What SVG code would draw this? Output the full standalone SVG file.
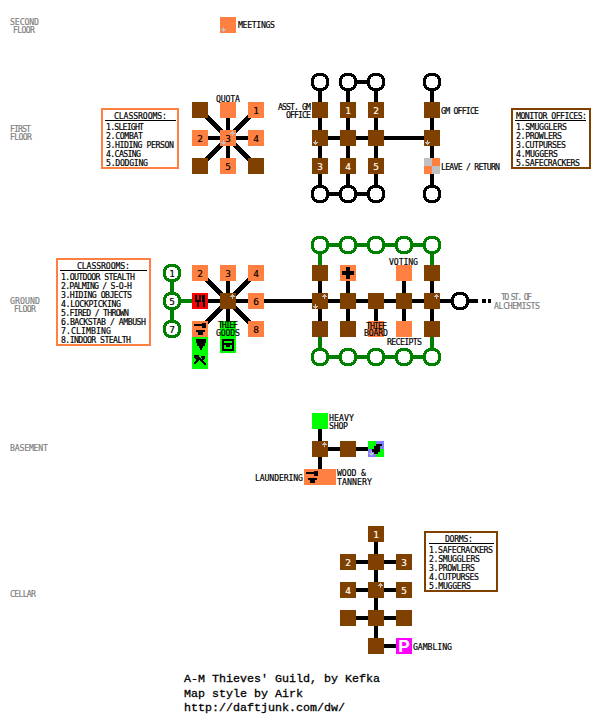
<svg xmlns="http://www.w3.org/2000/svg" width="600" height="720" viewBox="0 0 600 720">
<style>
text{font-family:"DejaVu Sans Mono","Liberation Mono",monospace;font-size:8.2px;fill:#000;stroke:#000;stroke-width:.18px}
.g{fill:#808080;stroke:#808080}
.c{text-anchor:middle;font-size:9.4px}
.w{fill:#fff;stroke:#fff}
.foot{font-family:"Liberation Mono",monospace;font-size:11.67px;stroke-width:.3px}
.br{fill:#804000}.or{fill:#ff8040}.gr{fill:#00ff00}.re{fill:#ff0000}.ma{fill:#ff00ff}.lg{fill:#c0c0c0}.bl{fill:#8080ff}.k{fill:#000}
.rk{fill:#000}.rg{fill:#008000}
.box{fill:#fff;stroke-width:2}
.bo{stroke:#ff8040}.bb{stroke:#804000}
.rule{stroke:#000;stroke-width:1}
#connectors path{fill:none;stroke:#000;stroke-width:4}
#connectors path.gl{stroke:#008000}
#connectors path.d{shape-rendering:crispEdges;stroke-width:4.4}
rect{shape-rendering:crispEdges}
</style>
<defs>
<g id="ring"><path d="M-3-6H3V-5H5V-3H6V3H5V5H3V6H-3V5H-5V3H-6V-3H-5V-5H-3Z" style="fill:#fff"/><path fill-rule="evenodd" shape-rendering="crispEdges" d="M-4-9H4V-8H6V-7H7V-6H8V-4H9V4H8V6H7V7H6V8H4V9H-4V8H-6V7H-7V6H-8V4H-9V-4H-8V-6H-7V-7H-6V-8H-4ZM-3-6H3V-5H5V-3H6V3H5V5H3V6H-3V5H-5V3H-6V-3H-5V-5H-3Z"/></g>
<path id="up" style="fill:#c0c0c0" shape-rendering="crispEdges" d="M-.5-2.5h1v1h1v1h1v1h-2v2h-1v-2h-2v-1h1v-1h1z"/>
<path id="dn" style="fill:#c0c0c0" shape-rendering="crispEdges" d="M-.5 2.5h1v-1h1v-1h1v-1h-2v-2h-1v2h-2v1h1v1h1z"/>
<g id="anvil"><rect x="-6" y="-5" width="9" height="2"/><rect x="2" y="-6" width="4" height="5"/><rect x="-4" y="1" width="9" height="2"/><rect x="-2" y="3" width="5" height="3"/></g>
</defs>
<rect width="600" height="720" fill="#fff"/>

<g id="floor-labels">
<text class="g" x="10" y="24.5" textLength="29">SECOND</text><text class="g" x="13" y="32.5" textLength="22">FLOOR</text>
<text class="g" x="10" y="131.5" textLength="21">FIRST</text><text class="g" x="10" y="139.5" textLength="22">FLOOR</text>
<text class="g" x="10" y="303.5" textLength="30">GROUND</text><text class="g" x="14" y="311.5" textLength="22">FLOOR</text>
<text class="g" x="10" y="450.5" textLength="38">BASEMENT</text>
<text class="g" x="10" y="596.5" textLength="26">CELLAR</text>
</g>

<g id="connectors">
<path d="M200 138H256M228 110V166"/>
<path class="d" d="M206 116L250 160M250 116L206 160"/>
<path d="M320 82V194M348 82V194M376 82V194M432 82V194M320 138H432M348 82H376M320 194H376"/>
<path class="gl" d="M172 273V329M172 301H200"/>
<path d="M200 301H312"/>
<path d="M228 273V329"/>
<path class="d" d="M206 279L250 323M250 279L206 323"/>
<path class="gl" d="M320 245H432M320 357H432M320 245V273M432 245V273M320 329V357M432 329V357"/>
<path d="M320 273V329M348 273V329M376 301V329M404 273V329M432 273V329M312 301H478"/>
<path d="M482 301H486M488 301H491"/>
<path d="M320 429V469M320 449H376"/>
<path d="M376 534V646M348 562H404M348 590H404M348 618H404M376 646H404"/>
</g>

<g id="meetings"><rect class="or" x="220" y="17" width="16" height="16"/><use href="#dn" x="223.5" y="29.5"/><text x="238" y="27.5" textLength="37">MEETINGS</text></g>

<g id="first-legend"><rect class="box bo" x="102" y="109" width="76" height="59"/><line class="rule" x1="105" y1="120.5" x2="176" y2="120.5"/>
<text x="114" y="118.5" textLength="53">CLASSROOMS:</text>
<text x="106" y="129.5" textLength="38">1.SLEIGHT</text><text x="106" y="138.5" textLength="37">2.COMBAT</text><text x="106" y="147.5" textLength="68">3.HIDING PERSON</text><text x="106" y="156.5" textLength="35">4.CASING</text><text x="106" y="165.5" textLength="42">5.DODGING</text></g>
<g id="monitor-legend"><rect class="box bb" x="512" y="109" width="78" height="59"/><line class="rule" x1="515" y1="120.5" x2="586" y2="120.5"/>
<text x="516" y="118.5" textLength="71">MONITOR OFFICES:</text>
<text x="516" y="129.5" textLength="51">1.SMUGGLERS</text><text x="516" y="138.5" textLength="46">2.PROWLERS</text><text x="516" y="147.5" textLength="50">3.CUTPURSES</text><text x="516" y="156.5" textLength="42">4.MUGGERS</text><text x="516" y="165.5" textLength="64">5.SAFECRACKERS</text></g>

<g id="quota"><rect class="or" x="220" y="102" width="16" height="16"/><text x="216" y="101.5" textLength="24">QUOTA</text></g>
<g id="f-nw"><rect class="br" x="192" y="102" width="16" height="16"/></g>
<g id="f-sw"><rect class="br" x="192" y="158" width="16" height="16"/></g>
<g id="f-se"><rect class="br" x="248" y="158" width="16" height="16"/></g>
<g id="f-1"><rect class="or" x="248" y="102" width="16" height="16"/><text class="c" x="256" y="113.5">1</text></g>
<g id="f-2"><rect class="or" x="192" y="130" width="16" height="16"/><text class="c" x="200" y="141.5">2</text></g>
<g id="f-3"><rect class="or" x="220" y="130" width="16" height="16"/><text class="c" x="228" y="141.5">3</text><use href="#up" x="232.5" y="133.5"/><use href="#dn" x="223.5" y="142.5"/></g>
<g id="f-4"><rect class="or" x="248" y="130" width="16" height="16"/><text class="c" x="256" y="141.5">4</text></g>
<g id="f-5"><rect class="or" x="220" y="158" width="16" height="16"/><text class="c" x="228" y="169.5">5</text></g>

<g id="f-c1"><use href="#ring" x="320" y="82" class="rk"/></g><g id="f-c2"><use href="#ring" x="348" y="82" class="rk"/></g><g id="f-c3"><use href="#ring" x="376" y="82" class="rk"/></g><g id="f-c4"><use href="#ring" x="432" y="82" class="rk"/></g>
<g id="f-c5"><use href="#ring" x="320" y="194" class="rk"/></g><g id="f-c6"><use href="#ring" x="348" y="194" class="rk"/></g><g id="f-c7"><use href="#ring" x="376" y="194" class="rk"/></g><g id="f-c8"><use href="#ring" x="432" y="194" class="rk"/></g>
<g id="asst-gm"><rect class="br" x="312" y="102" width="16" height="16"/><text x="278" y="109.5" textLength="33">ASST. GM</text><text x="286" y="117.5" textLength="25">OFFICE</text></g>
<g id="mon-1"><rect class="br" x="340" y="102" width="16" height="16"/><text class="c w" x="348" y="113.5">1</text></g>
<g id="mon-2"><rect class="br" x="368" y="102" width="16" height="16"/><text class="c w" x="376" y="113.5">2</text></g>
<g id="gm-office"><rect class="br" x="424" y="102" width="16" height="16"/><text x="441" y="113.5" textLength="38">GM OFFICE</text></g>
<g id="f-r1"><rect class="br" x="312" y="130" width="16" height="16"/><use href="#dn" x="315" y="142"/></g>
<g id="f-r2"><rect class="br" x="340" y="130" width="16" height="16"/></g>
<g id="f-r3"><rect class="br" x="368" y="130" width="16" height="16"/></g>
<g id="f-r4"><rect class="br" x="424" y="130" width="16" height="16"/><use href="#dn" x="427" y="142"/></g>
<g id="mon-3"><rect class="br" x="312" y="158" width="16" height="16"/><text class="c w" x="320" y="169.5">3</text></g>
<g id="mon-4"><rect class="br" x="340" y="158" width="16" height="16"/><text class="c w" x="348" y="169.5">4</text></g>
<g id="mon-5"><rect class="br" x="368" y="158" width="16" height="16"/><text class="c w" x="376" y="169.5">5</text></g>
<g id="leave-return"><rect class="lg" x="424" y="158" width="8" height="8"/><rect class="or" x="432" y="158" width="8" height="8"/><rect class="or" x="424" y="166" width="8" height="8"/><rect class="lg" x="432" y="166" width="8" height="8"/><text x="441" y="169.5" textLength="59">LEAVE / RETURN</text></g>

<g id="ground-legend"><rect class="box bo" x="57" y="259" width="93" height="86"/><line class="rule" x1="60" y1="270.5" x2="147" y2="270.5"/>
<text x="77" y="268.5" textLength="53">CLASSROOMS:</text>
<text x="61" y="279.5" textLength="74">1.OUTDOOR STEALTH</text><text x="61" y="288.5" textLength="71">2.PALMING / S-O-H</text><text x="61" y="297.5" textLength="71">3.HIDING OBJECTS</text><text x="61" y="306.5" textLength="60">4.LOCKPICKING</text><text x="61" y="315.5" textLength="68">5.FIRED / THROWN</text><text x="61" y="324.5" textLength="85">6.BACKSTAB / AMBUSH</text><text x="61" y="333.5" textLength="50">7.CLIMBING</text><text x="61" y="342.5" textLength="70">8.INDOOR STEALTH</text></g>

<g id="g-c1"><use href="#ring" x="172" y="273" class="rg"/><text class="c" x="172" y="276.5">1</text></g>
<g id="g-c5"><use href="#ring" x="172" y="301" class="rg"/><text class="c" x="172" y="304.5">5</text></g>
<g id="g-c7"><use href="#ring" x="172" y="329" class="rg"/><text class="c" x="172" y="332.5">7</text></g>
<g id="g-2"><rect class="or" x="192" y="265" width="16" height="16"/><text class="c" x="200" y="276.5">2</text></g>
<g id="g-3"><rect class="or" x="220" y="265" width="16" height="16"/><text class="c" x="228" y="276.5">3</text></g>
<g id="g-4"><rect class="or" x="248" y="265" width="16" height="16"/><text class="c" x="256" y="276.5">4</text></g>
<g id="g-6"><rect class="or" x="248" y="293" width="16" height="16"/><text class="c" x="256" y="304.5">6</text></g>
<g id="g-8"><rect class="or" x="248" y="321" width="16" height="16"/><text class="c" x="256" y="332.5">8</text></g>
<g id="g-food"><rect class="re" x="192" y="293" width="16" height="16"/><path class="k" shape-rendering="crispEdges" d="M195 295h2v5h2v-5h2v7h-2v5h-2v-5h-2zM202 295h3v12h-2v-5h-1z"/></g>
<g id="g-center"><rect class="br" x="220" y="293" width="16" height="16"/><use href="#up" x="232.5" y="296.5"/></g>
<g id="g-smith"><rect class="or" x="192" y="321" width="16" height="16"/><use href="#anvil" x="200" y="329"/></g>
<g id="g-armor"><rect class="gr" x="192" y="337" width="16" height="16"/><path class="k" shape-rendering="crispEdges" d="M196 339h10v4h-1v3h-2v2h-1v2h-2v-2h-1v-2h-2v-3h-1z"/></g>
<g id="g-weapons"><rect class="gr" x="192" y="353" width="16" height="16"/><path class="k" shape-rendering="crispEdges" d="M194 355h5v2h1v1h1v1h1v1h1v1h1v1h1v1h1v2h-2v-1h-1v-1h-1v-1h-1v-1h-1v-1h-1l-3 3v1h-2v-2l2-2v-1h-1v-1h-1zM201 356h4v3h-1v1h-2v-2h-1z"/></g>
<g id="thief-goods"><rect class="gr" x="220" y="321" width="16" height="32"/><path class="k" shape-rendering="crispEdges" fill-rule="evenodd" d="M222 339h12v12h-12zM224 341v2h8v-2zM224 345v4h8v-4z"/><rect class="k" x="226" y="345" width="4" height="2"/><text x="218" y="327.5" textLength="20">THIEF</text><text x="216" y="336" textLength="24">GOODS</text></g>

<g id="g-t1"><use href="#ring" x="320" y="245" class="rg"/></g><g id="g-t2"><use href="#ring" x="348" y="245" class="rg"/></g><g id="g-t3"><use href="#ring" x="376" y="245" class="rg"/></g><g id="g-t4"><use href="#ring" x="404" y="245" class="rg"/></g><g id="g-t5"><use href="#ring" x="432" y="245" class="rg"/></g>
<g id="g-b1"><use href="#ring" x="320" y="357" class="rg"/></g><g id="g-b2"><use href="#ring" x="348" y="357" class="rg"/></g><g id="g-b3"><use href="#ring" x="376" y="357" class="rg"/></g><g id="g-b4"><use href="#ring" x="404" y="357" class="rg"/></g><g id="g-b5"><use href="#ring" x="432" y="357" class="rg"/></g>
<g id="g-e"><use href="#ring" x="460" y="301" class="rk"/></g>
<g id="g-r11"><rect class="br" x="312" y="265" width="16" height="16"/></g>
<g id="g-heal"><rect class="or" x="340" y="265" width="16" height="16"/><path class="k" shape-rendering="crispEdges" d="M346 267h4v4h4v4h-4v4h-4v-4h-4v-4h4z"/></g>
<g id="voting"><rect class="or" x="396" y="265" width="16" height="16"/><text x="389" y="264.5" textLength="29">VOTING</text></g>
<g id="g-r15"><rect class="br" x="424" y="265" width="16" height="16"/></g>
<g id="g-r21"><rect class="br" x="312" y="293" width="16" height="16"/><use href="#up" x="324" y="296"/><use href="#dn" x="315" y="306"/></g>
<g id="g-r22"><rect class="br" x="340" y="293" width="16" height="16"/></g>
<g id="g-r23"><rect class="br" x="368" y="293" width="16" height="16"/></g>
<g id="g-r24"><rect class="br" x="396" y="293" width="16" height="16"/></g>
<g id="g-r25"><rect class="br" x="424" y="293" width="16" height="16"/><use href="#up" x="436" y="296"/></g>
<g id="g-r31"><rect class="br" x="312" y="321" width="16" height="16"/></g>
<g id="g-r32"><rect class="br" x="340" y="321" width="16" height="16"/></g>
<g id="thief-board"><rect class="or" x="368" y="321" width="16" height="16"/><text x="366" y="328.5" textLength="21">THIEF</text><text x="364" y="336" textLength="24">BOARD</text></g>
<g id="receipts"><rect class="or" x="396" y="321" width="16" height="16"/><text x="387" y="344.5" textLength="35">RECEIPTS</text></g>
<g id="g-r35"><rect class="br" x="424" y="321" width="16" height="16"/></g>
<g id="to-alchemists"><text class="g" x="501" y="299.5" textLength="31">TO ST. OF</text><text class="g" x="494" y="308.5" textLength="46">ALCHEMISTS</text></g>

<g id="heavy-shop"><rect class="gr" x="312" y="413" width="16" height="16"/><text x="329" y="420.5" textLength="25">HEAVY</text><text x="329" y="428.5" textLength="19">SHOP</text></g>
<g id="b-1"><rect class="br" x="312" y="441" width="16" height="16"/><use href="#up" x="324" y="444"/></g>
<g id="b-2"><rect class="br" x="340" y="441" width="16" height="16"/></g>
<g id="b-3"><rect class="gr" x="368" y="441" width="8" height="8"/><rect class="bl" x="376" y="441" width="8" height="8"/><rect class="bl" x="368" y="449" width="8" height="8"/><rect class="gr" x="376" y="449" width="8" height="8"/><path class="k" shape-rendering="crispEdges" d="M376 444h6v2h-2v6h-2v2h-4v-2h-2v-3h2v-3h2z"/><use href="#dn" x="371.5" y="453.5"/></g>
<g id="laundering"><rect class="or" x="304" y="469" width="32" height="16"/><use href="#anvil" x="312" y="477"/><text x="255" y="480.5" textLength="48">LAUNDERING</text><text x="337" y="476" textLength="29">WOOD &amp;</text><text x="337" y="484.5" textLength="35">TANNERY</text></g>

<g id="dorm-legend"><rect class="box bb" x="425" y="532" width="72" height="59"/><line class="rule" x1="429" y1="543.5" x2="494" y2="543.5"/>
<text x="445" y="541.5" textLength="28">DORMS:</text>
<text x="429" y="552.5" textLength="64">1.SAFECRACKERS</text><text x="429" y="561.5" textLength="51">2.SMUGGLERS</text><text x="429" y="570.5" textLength="46">3.PROWLERS</text><text x="429" y="579.5" textLength="50">4.CUTPURSES</text><text x="429" y="588.5" textLength="42">5.MUGGERS</text></g>
<g id="c-1"><rect class="br" x="368" y="526" width="16" height="16"/><text class="c w" x="376" y="537.5">1</text></g>
<g id="c-2"><rect class="br" x="340" y="554" width="16" height="16"/><text class="c w" x="348" y="565.5">2</text></g>
<g id="c-m1"><rect class="br" x="368" y="554" width="16" height="16"/></g>
<g id="c-3"><rect class="br" x="396" y="554" width="16" height="16"/><text class="c w" x="404" y="565.5">3</text></g>
<g id="c-4"><rect class="br" x="340" y="582" width="16" height="16"/><text class="c w" x="348" y="593.5">4</text></g>
<g id="c-m2"><rect class="br" x="368" y="582" width="16" height="16"/><use href="#up" x="380" y="585"/></g>
<g id="c-5"><rect class="br" x="396" y="582" width="16" height="16"/><text class="c w" x="404" y="593.5">5</text></g>
<g id="c-l"><rect class="br" x="340" y="610" width="16" height="16"/></g>
<g id="c-m3"><rect class="br" x="368" y="610" width="16" height="16"/></g>
<g id="c-r"><rect class="br" x="396" y="610" width="16" height="16"/></g>
<g id="c-s"><rect class="br" x="368" y="638" width="16" height="16"/></g>
<g id="gambling"><rect class="ma" x="396" y="638" width="16" height="16"/><text class="c w" x="404" y="652" style="font-family:'Liberation Sans',sans-serif;font-size:17px;font-weight:bold">P</text><text x="413" y="649.5" textLength="39">GAMBLING</text></g>

<g id="credits">
<text class="foot" x="184" y="682" textLength="196">A-M Thieves' Guild, by Kefka</text>
<text class="foot" x="184" y="697" textLength="119">Map style by Airk</text>
<text class="foot" x="184" y="711" textLength="161">http://daftjunk.com/dw/</text>
</g>
</svg>
